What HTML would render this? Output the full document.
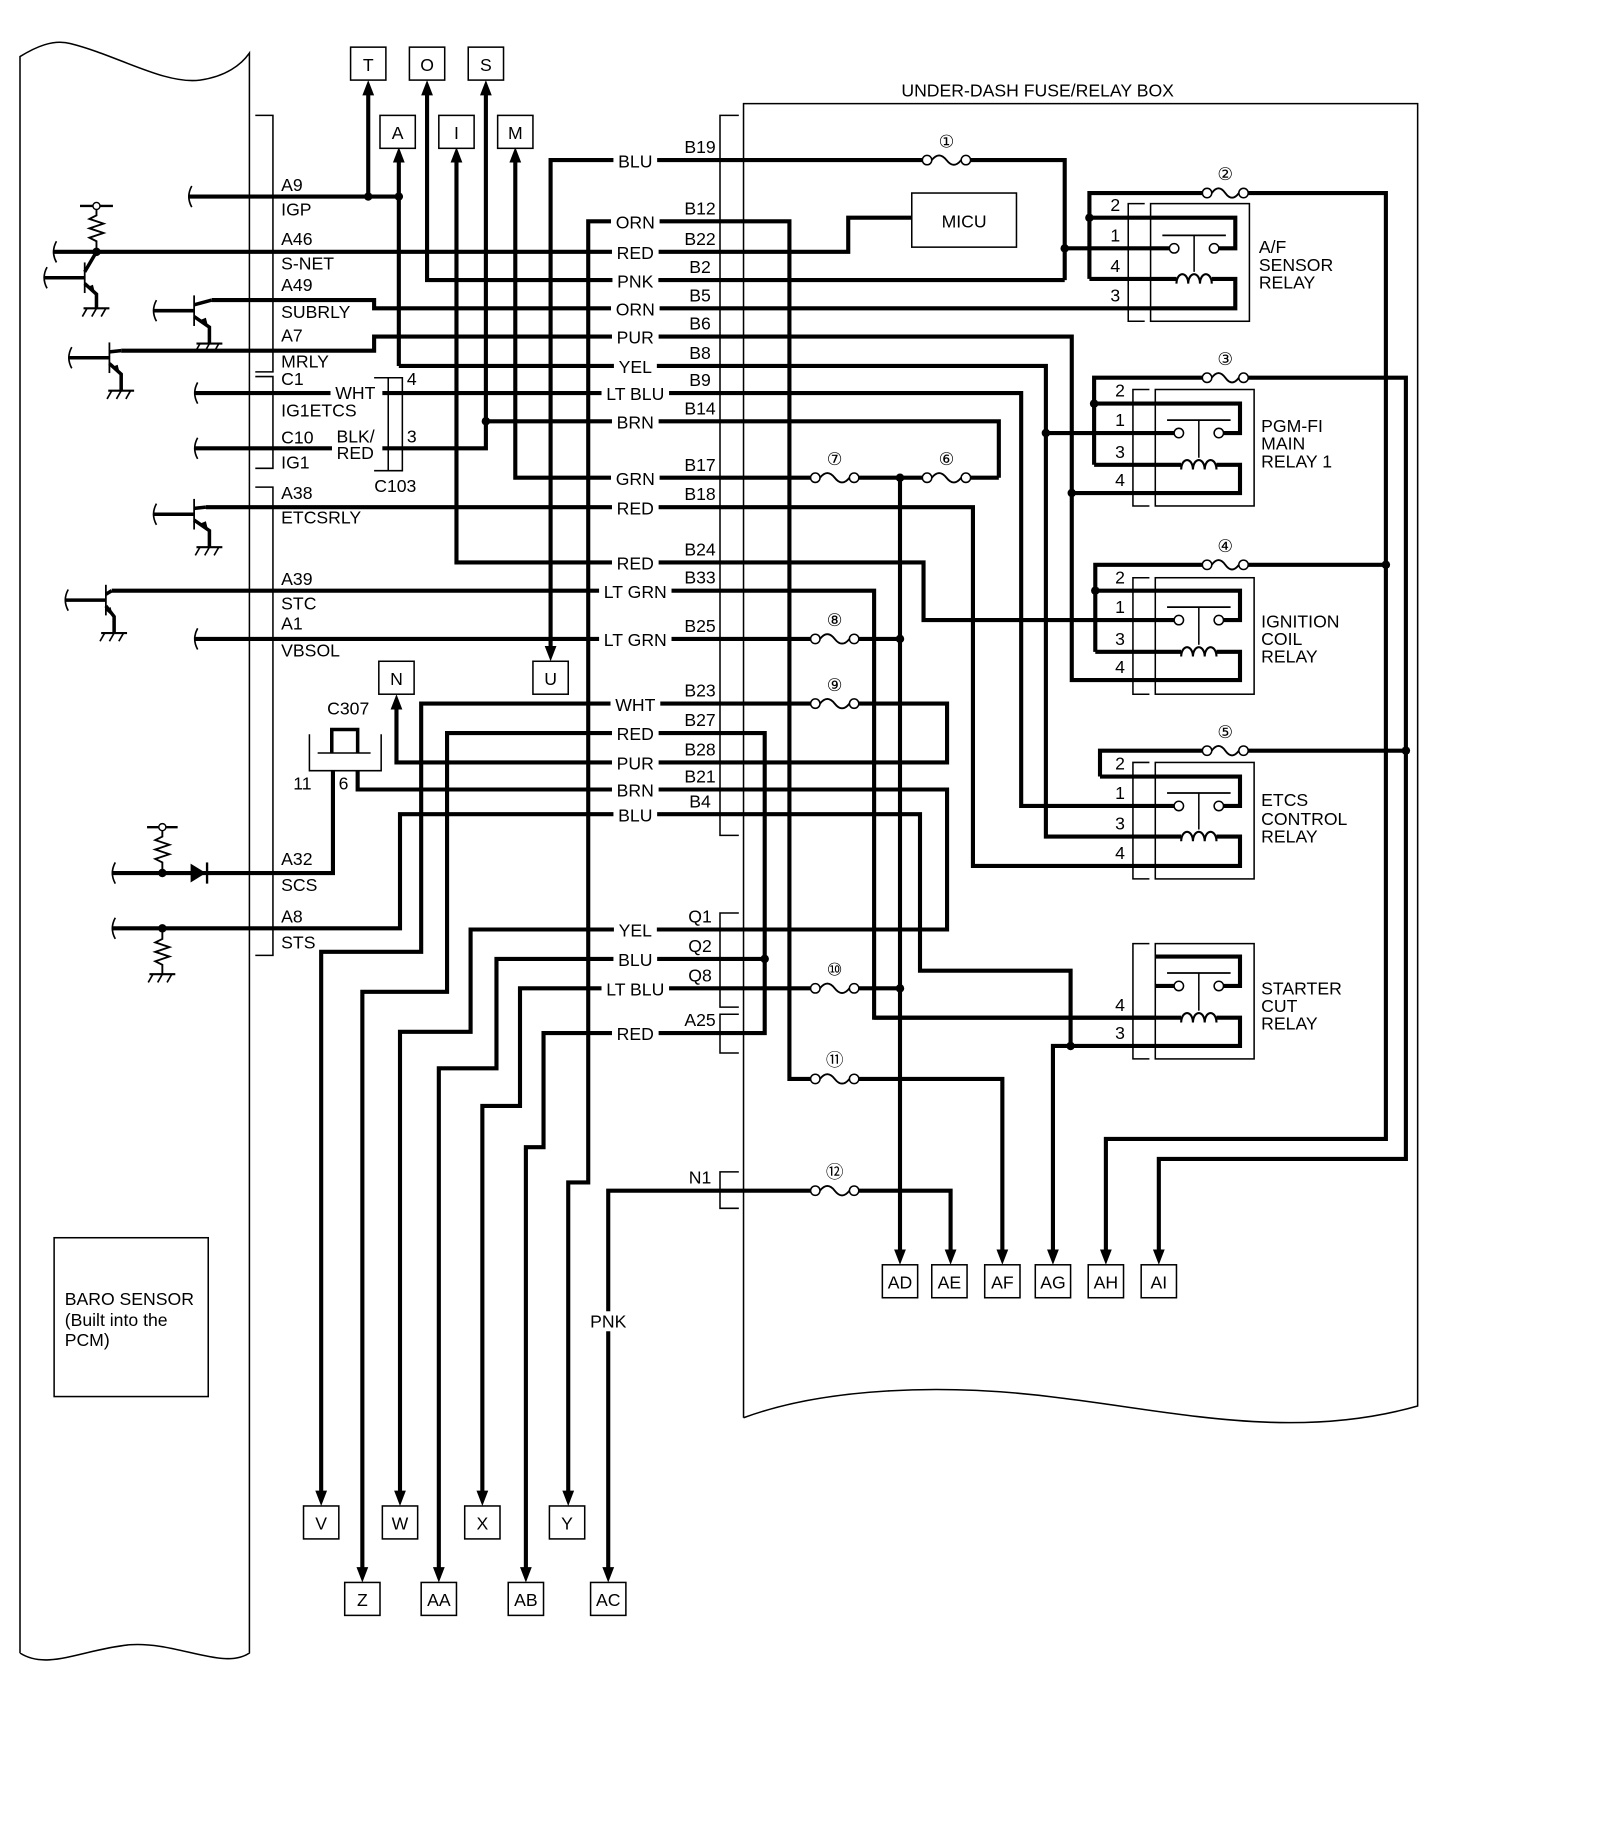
<!DOCTYPE html>
<html><head><meta charset="utf-8"><style>
html,body{margin:0;padding:0;background:#fff;}
svg{display:block;}
text{font-family:"Liberation Sans",Arial,sans-serif;font-size:15px;fill:#000;}
</style></head><body>
<svg id="s" xmlns="http://www.w3.org/2000/svg" width="1600" height="1839" viewBox="0 0 1360 1563">
<rect x="0" y="0" width="1360" height="1563" fill="#fff"/>
</svg>
<script>
const S=document.getElementById('s');const NS='http://www.w3.org/2000/svg';
function el(t,a,txt){const e=document.createElementNS(NS,t);for(const k in a)e.setAttribute(k,a[k]);if(txt!==undefined)e.textContent=txt;S.appendChild(e);return e;}
function P(d,w){return el('path',{d:d,fill:'none',stroke:'#000','stroke-width':w||3.5,'stroke-linejoin':'miter'});}
function dot(x,y){el('circle',{cx:x,cy:y,r:3.6,fill:'#000'});}
function T(t,x,y,anc,sz){return el('text',{x:x,y:y,'text-anchor':anc||'start','dominant-baseline':'central','font-size':sz||15},t);}
function L(t,x,y){const tx=T(t,x,y,'middle');const b=tx.getBBox();const r=el('rect',{x:b.x-4,y:b.y,width:b.width+8,height:b.height,fill:'#fff'});S.insertBefore(r,tx);}
function up(x,y){el('polygon',{points:`${x},${y} ${x-5},${y+13} ${x+5},${y+13}`,fill:'#000'});}
function dn(x,y){el('polygon',{points:`${x},${y} ${x-5},${y-13} ${x+5},${y-13}`,fill:'#000'});}
function box(t,x,y,w,h){el('rect',{x:x,y:y,width:w,height:h,fill:'#fff',stroke:'#000','stroke-width':1.3});T(t,x+w/2,y+h/2+1,'middle');}
function fuse(x1,x2,y,n){el('rect',{x:x1,y:y-6,width:x2-x1,height:12,fill:'#fff'});const w=x2-x1-16;
 P(`M${x1+8},${y} q${w/4},-8 ${w/2},0 t${w/2},0`,1.6);
 el('circle',{cx:x1+4,cy:y,r:4,fill:'#fff',stroke:'#000','stroke-width':1.3});
 el('circle',{cx:x2-4,cy:y,r:4,fill:'#fff',stroke:'#000','stroke-width':1.3});
 T(n,(x1+x2)/2,y-16,'middle',16);}
function stub(x,y){P(`M${x+3},${y-9} Q${x-2},${y} ${x+3},${y+9}`,1.4);}
function gnd(x,y){P(`M${x-11},${y} H${x+11}`,1.8);for(let i=-8;i<=8;i+=8)P(`M${x+i},${y} l-4,7`,1.4);}
function trans(bx,by,cx,cy,gx,gy){P(`M${bx-35},${by} H${bx}`,3);P(`M${bx},${by-13} V${by+13}`,1.5);
 P(`M${bx},${by-5} L${cx},${cy}`,3);P(`M${bx},${by+5} L${gx},${by+14} V${gy}`,3);
 el('polygon',{points:`${gx-1},${by+14} ${gx-8},${by+8} ${gx-3},${by+6}`,fill:'#000'});gnd(gx,gy);stub(bx-35,by);}
function relay(x0,top,bot,a,b,c,d){
 el('rect',{x:x0,y:top,width:84,height:bot-top,fill:'none',stroke:'#000','stroke-width':1.3});
 P(`M${x0-5},${top} H${x0-19} V${bot} H${x0-5}`,1.3);
 const xr=x0+72;
 P(`M${x0},${a} H${xr} V${b} H${x0+58}`);P(`M${x0},${b} H${x0+16}`);
 el('circle',{cx:x0+20,cy:b,r:4,fill:'#fff',stroke:'#000','stroke-width':1.3});
 el('circle',{cx:x0+54,cy:b,r:4,fill:'#fff',stroke:'#000','stroke-width':1.3});
 P(`M${x0+10},${b-11} H${x0+64}`,1.5);P(`M${x0+37},${b-11} V${c-6}`,1.3);
 P(`M${x0},${c} H${x0+22}`);P(`M${x0+22},${c+4} a5,8 0 1,1 10,0 a5,8 0 1,1 10,0 a5,8 0 1,1 10,0`,1.8);
 P(`M${x0+52},${c} H${xr} V${d} H${x0}`);}

// PCM outline
P('M17,1405 V48 C30,40 45,33 60,37 C100,47 140,72 170,68 C192,65 205,55 212,45 V1405 C190,1420 150,1395 110,1398 C70,1402 40,1420 17,1405',1.3);
// fuse box outline
P('M632,1205 V88 H1205 V1195 C1100,1225 1000,1200 900,1188 C800,1175 700,1180 632,1205',1.3);
T('UNDER-DASH FUSE/RELAY BOX',882,77,'middle');
// brackets
P('M217,98 H232 V316 H217',1.3);P('M217,320 H232 V398 H217',1.3);P('M217,414 H232 V812 H217',1.3);
P('M628,98 H612 V710 H628',1.3);P('M628,776 H612 V856 H628',1.3);P('M628,862 H612 V895 H628',1.3);P('M628,996 H612 V1027 H628',1.3);
// C103
P('M318,321 H330 V400 H318',1.3);P('M330,321 H342 V400 H330',1.3);
// C307
P('M263,624 V655 H324 V624',1.3);P('M270,640 H315',1.3);P('M282,640 V620 H304 V640',3);

// wires left
P('M160,167 H339');P('M313,167 V75');up(313,68);P('M339,311 V132');up(339,125);
P('M45,214 H721 V185 H775');
P('M363,75 V238 H905');up(363,68);
P('M212,255 H318 V262 H978');
P('M212,298 H318 V286 H911 V578 H982');P('M911,419 H982');
P('M339,311 H889 V711 H982');P('M889,368 H982');
P('M165,334 H293');P('M325,334 H868 V685 H982');
P('M165,381 H293');P('M325,381 H413 V75');up(413,68);
P('M413,358 H849 V406');
P('M438,132 V406 H849');up(438,125);
P('M468,555 V136 H905 V238');dn(468,562);P('M905,211 H978');
P('M483,1273 V1005 H500 V188 H671 V917 H852 V1068');dn(483,1280);dn(852,1075);
P('M388,132 V478 H785 V527 H982');up(388,125);
P('M95,502 H743 V865 H982');
P('M175,431 H827 V736 H982');
P('M165,543 H765');
P('M273,1273 V809 H358 V598 H805 V648 H337 V597');dn(273,1280);up(337,590);
P('M308,1338 V843 H380 V623 H650 V878 H462 V975 H447 V1338');dn(308,1345);dn(447,1345);
P('M304,655 V671 H805 V790 H400 V877 H340 V1273');dn(340,1280);
P('M95,789 H340 V692 H782 V825 H910 V889');
P('M650,815 H422 V908 H373 V1338');dn(373,1345);
P('M410,1273 V940 H442 V840 H765');dn(410,1280);
P('M95,742 H283 V655');
P('M517,1338 V1012 H808 V1068');dn(517,1345);dn(808,1075);
P('M765,406 V1068');dn(765,1075);
P('M895,1068 V889 H982');dn(895,1075);
// right relay supply
P('M926,237 V164 H1178 V968 H940 V1068');dn(940,1075);P('M926,185 H978');P('M926,237 H978');
P('M930,395 V321 H1195 V985 H985 V1068');dn(985,1075);P('M930,343 H982');P('M930,395 H982');
P('M931,554 V480 H1178');P('M931,502 H982');P('M931,554 H982');
P('M935,660 V638 H1195');P('M935,660 H982');
P('M743,865 H982');

// relays
relay(978,173,273,185,211,237,262);
relay(982,331,430,343,368,395,419);
relay(982,491,590,502,527,554,578);
relay(982,648,747,660,685,711,736);
relay(982,802,900,813,838,865,889);
[[185,'2'],[211,'1'],[237,'4'],[262,'3']].forEach(p=>T(p[1],948,p[0]-11,'middle'));
[[343,'2'],[368,'1'],[395,'3'],[419,'4']].forEach(p=>T(p[1],952,p[0]-11,'middle'));
[[502,'2'],[527,'1'],[554,'3'],[578,'4']].forEach(p=>T(p[1],952,p[0]-11,'middle'));
[[660,'2'],[685,'1'],[711,'3'],[736,'4']].forEach(p=>T(p[1],952,p[0]-11,'middle'));
[[865,'4'],[889,'3']].forEach(p=>T(p[1],952,p[0]-11,'middle'));
[[1070,210,'A/F'],[1070,225,'SENSOR'],[1070,240,'RELAY'],[1072,362,'PGM-FI'],[1072,377,'MAIN'],[1072,392,'RELAY 1'],
 [1072,528,'IGNITION'],[1072,543,'COIL'],[1072,558,'RELAY'],[1072,680,'ETCS'],[1072,696,'CONTROL'],[1072,711,'RELAY'],
 [1072,840,'STARTER'],[1072,855,'CUT'],[1072,870,'RELAY']].forEach(a=>T(a[2],a[0],a[1]));
// MICU
box('MICU',775,164,89,46);
// fuses
fuse(784,825,136,'①');fuse(1022,1061,164,'②');fuse(1022,1061,321,'③');fuse(1022,1061,480,'④');fuse(1022,1061,638,'⑤');
fuse(784,825,406,'⑥');fuse(689,730,406,'⑦');fuse(689,730,543,'⑧');fuse(689,730,598,'⑨');fuse(689,730,840,'⑩');fuse(689,730,917,'⑪');fuse(689,730,1012,'⑫');

// left side components
trans(72,236,82,214,82,262);
P('M82,214 V205 l-6,-3 l12,-4 l-12,-4 l12,-4 l-12,-4 l6,-3 V175',1.6);P('M68,175 H96',2);
el('circle',{cx:82,cy:175,r:3,fill:'#fff',stroke:'#000','stroke-width':1.2});stub(45,214);
trans(165,264,180,255,178,292);P('M180,255 H212');
trans(93,304,103,298,103,332);P('M103,298 H212');
trans(165,437,175,431,178,465);
trans(90,510,95,502,97,538);
stub(160,167);stub(165,334);stub(165,381);stub(165,543);stub(95,742);stub(95,789);
P('M138,742 V733 l-6,-3 l12,-4 l-12,-4 l12,-4 l-12,-4 l6,-3 V703',1.6);P('M125,703 H151',2);
el('circle',{cx:138,cy:703,r:3,fill:'#fff',stroke:'#000','stroke-width':1.2});
el('polygon',{points:'162,734 162,750 175,742',fill:'#000'});P('M176,733 V751',2);
P('M138,789 V798 l-6,3 l12,4 l-12,4 l12,4 l-12,4 l6,3 V828',1.6);gnd(138,828);
[[313,167],[339,167],[82,214],[413,358],[765,406],[765,543],[765,840],[905,211],[926,185],[930,343],[889,368],[911,419],[931,502],[1178,480],[1195,638],[650,815],[910,889],[138,742],[138,789]].forEach(p=>dot(p[0],p[1]));

// PCM labels
[['A9',157],['IGP',178],['A46',203],['S-NET',224],['A49',242],['SUBRLY',265],['A7',285],['MRLY',307],['C1',322],['IG1ETCS',349],['C10',372],['IG1',393],['A38',419],['ETCSRLY',440],['A39',492],['STC',513],['A1',530],['VBSOL',553],['A32',730],['SCS',752],['A8',779],['STS',801]].forEach(a=>T(a[0],239,a[1]));
L('WHT',302,334);T('BLK/',286,371);L('RED',302,385);
T('4',350,322,'middle');T('3',350,371,'middle');T('C103',336,413,'middle');T('C307',296,602,'middle');T('11',257,666,'middle');T('6',292,666,'middle');
// color labels
[['BLU',136],['ORN',188],['RED',214],['PNK',238],['ORN',262],['PUR',286],['YEL',311],['LT BLU',334],['BRN',358],['GRN',406],['RED',431],['RED',478],['LT GRN',502],['LT GRN',543],['WHT',598],['RED',623],['PUR',648],['BRN',671],['BLU',692],['YEL',790],['BLU',815],['LT BLU',840],['RED',878]].forEach(a=>L(a[0],540,a[1]+1));
[['B19',136],['B12',188],['B22',214],['B2',238],['B5',262],['B6',286],['B8',311],['B9',334],['B14',358],['B17',406],['B18',431],['B24',478],['B33',502],['B25',543],['B23',598],['B27',623],['B28',648],['B21',671],['B4',692],['Q1',790],['Q2',815],['Q8',840],['A25',878],['N1',1012]].forEach(a=>T(a[0],595,a[1]-11,'middle'));
L('PNK',517,1123);
// boxes
[['T',298,40],['O',348,40],['S',398,40],['A',323,98],['I',373,98],['M',423,98],['N',322,562],['U',453,562],
 ['V',258,1280],['W',325,1280],['X',395,1280],['Y',467,1280],['Z',293,1345],['AA',358,1345],['AB',432,1345],['AC',502,1345],
 ['AD',750,1075],['AE',792,1075],['AF',837,1075],['AG',880,1075],['AH',925,1075],['AI',970,1075]].forEach(b=>box(b[0],b[1],b[2],30,28));
// baro
el('rect',{x:46,y:1052,width:131,height:135,fill:'none',stroke:'#000','stroke-width':1.3});
T('BARO SENSOR',55,1104);T('(Built into the',55,1122);T('PCM)',55,1139);
</script>
</body></html>
